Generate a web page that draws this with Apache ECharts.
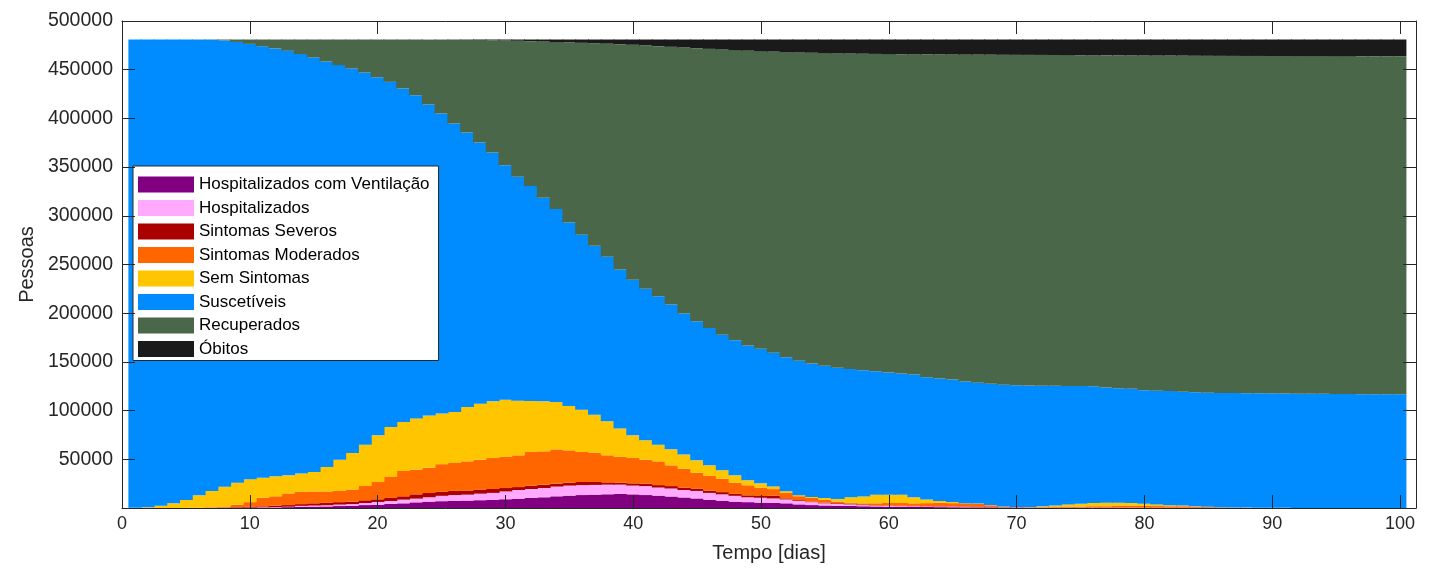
<!DOCTYPE html>
<html>
<head>
<meta charset="utf-8">
<script src="https://cdn.jsdelivr.net/npm/echarts@6/dist/echarts.min.js"></script>
<style>
html, body { margin: 0; padding: 0; background: #fff; }
#chart { width: 1433px; height: 568px; }
</style>
</head>
<body>
<div id="chart"></div>
<script>
// dias da simulacao
var days = [];
for (var d = 1; d <= 100; d++) days.push(d);

// pessoas por compartimento (dia 1..100)
var ventilados = [
  0,0,0,0,0,0,0,0,100,200,
  300,600,900,1300,1400,1600,2000,2300,3000,3300,
  4100,4800,5800,6500,7000,7300,7600,8000,8500,9000,
  9600,10300,11000,12000,12700,13300,13700,14100,14400,14000,
  13300,12700,11800,10800,9800,8500,7500,6500,6000,5500,
  5200,4800,3700,3000,2600,2400,2200,1800,1600,1400,
  1200,1100,1000,900,800,700,600,550,450,400,
  350,330,300,300,290,280,270,260,240,220,
  200,180,160,140,120,100,90,80,70,60,
  50,45,40,35,30,25,20,15,10,5
];
var hospitalizados = [
  0,0,0,0,0,0,50,100,100,200,
  400,400,400,900,1100,1200,1500,1700,2100,2900,
  3100,3800,3800,4500,5500,6000,6100,6700,7000,8000,
  8900,9200,9500,10000,10300,10200,10000,9900,9600,9000,
  9200,8300,8200,7700,7700,7000,6500,6000,5000,5000,
  4600,4000,3600,3000,2200,2000,1500,1100,900,800,
  700,700,500,500,400,400,300,250,150,150,
  150,120,100,100,110,120,110,100,100,80,
  60,50,40,40,40,40,30,20,20,20,
  20,15,10,10,10,5,5,5,2,3
];
var severos = [
  0,0,0,0,50,100,150,300,600,1100,
  1000,1500,1700,1800,2300,2500,2500,2500,2800,2700,
  3100,3400,4400,4400,4100,4200,4300,4300,4000,3500,
  3000,3500,3500,3000,3000,3200,3000,2300,2000,2300,
  2500,2500,2500,2500,2500,2300,2300,2000,2000,1800,
  3000,1100,800,600,700,700,700,800,400,400,
  300,400,300,400,300,400,200,300,100,150,
  100,100,100,100,100,100,120,140,110,100,
  90,70,100,70,90,60,80,50,60,20,
  30,20,20,15,10,10,5,0,3,2
];
var moderados = [
  0,0,0,0,50,200,500,1100,2600,4500,
  8900,9500,12000,12500,12200,11700,11500,12500,14700,17800,
  21500,26000,25400,26000,28400,28700,29900,30600,31800,31900,
  32600,34500,34200,35200,33200,30800,30100,27800,26400,26000,
  24600,24400,21300,19400,16300,15100,13800,11500,10300,8700,
  6600,5500,4000,3700,2900,1500,1100,1100,1900,2500,
  2900,2600,3200,3400,3500,3200,3200,1700,700,300,
  300,250,400,500,1000,1300,1300,1700,1750,1800,
  1650,1500,1500,1250,850,500,200,150,50,50,
  0,0,0,0,0,0,0,0,0,0
];
var semSintomas = [
  200,700,2400,4800,8100,12700,16800,20400,22600,23600,
  20500,20500,18500,18800,20000,25100,32100,37500,42400,47900,
  51400,50300,52600,53600,52000,52400,55800,57500,58200,58800,
  56100,52400,51300,48700,45500,43500,39000,34900,29100,23300,
  19900,17100,16400,14400,12600,10900,8600,7500,5100,4300,
  2600,1800,1100,1100,1900,2600,5500,6900,8800,8500,
  8500,6200,3800,2100,1200,300,200,200,200,100,
  200,1000,1700,2700,2900,3300,3700,3300,2900,2200,
  1700,1100,800,300,200,100,100,100,100,50,
  50,40,30,20,10,10,10,10,5,0
];
var suscetiveis = [
  480800,480300,478600,476200,472800,468000,463200,458100,452500,446900,
  442900,439300,435900,430700,425500,416300,405100,394700,382100,367700,
  354300,342400,331800,319300,308000,296200,281800,268200,255500,240800,
  229800,220800,209000,198100,188500,179600,173500,169000,163400,159700,
  155600,152500,148800,144900,142900,140900,139200,138800,138500,138200,
  137400,137700,138000,137000,135700,134800,131600,129800,126900,125600,
  124500,126100,125500,125700,125800,124900,124000,124500,124900,125000,
  124700,123800,122800,121600,120800,119900,118300,117500,117300,116600,
  116600,117100,116700,117100,117000,117300,117500,117500,117500,117500,
  117350,117280,117200,117120,117040,116950,116860,116870,116780,116790
];
var recuperados = [
  0,0,0,0,0,0,300,1000,2500,4500,
  7000,9200,11600,15000,18500,22600,26300,29800,33900,38650,
  43420,50200,57070,66540,75800,85950,95200,105200,115300,128000,
  139700,148600,160400,171400,184800,197000,207900,218700,231300,241300,
  249800,256700,264500,273100,280300,286700,292800,297800,302700,305600,
  309200,313300,316600,319000,321100,322800,324000,324900,325700,326800,
  327800,328700,331400,332650,333600,335600,336950,337900,338800,339150,
  339400,339550,339700,339700,339700,339800,340900,341650,342200,343550,
  344200,344450,345100,345400,345950,346100,346150,346200,346300,346350,
  346550,346600,346700,346800,346850,346950,347000,347000,347100,347100
];
var obitos = [
  0,0,0,0,0,0,0,0,0,0,
  0,0,0,0,0,0,0,0,0,50,
  80,100,130,160,200,250,300,500,700,1000,
  1300,1700,2100,2600,3000,3400,3800,4300,4800,5400,
  6100,6800,7500,8200,8900,9600,10300,10900,11400,11900,
  12400,12800,13200,13600,13900,14200,14400,14600,14800,15000,
  15100,15200,15300,15350,15400,15500,15550,15600,15700,15750,
  15800,15850,15900,16000,16100,16200,16300,16350,16400,16450,
  16500,16550,16600,16700,16750,16800,16850,16900,16900,16950,
  16950,17000,17000,17000,17050,17050,17100,17100,17100,17100
];

var seriesNames = ['Hospitalizados com Ventilação', 'Hospitalizados', 'Sintomas Severos',
  'Sintomas Moderados', 'Sem Sintomas', 'Suscetíveis', 'Recuperados', 'Óbitos'];
var seriesColors = ['#800080', '#ffaaff', '#aa0000', '#ff6600', '#ffc600', '#008cff', '#4a674a', '#1a1a1a'];
var seriesValues = [ventilados, hospitalizados, severos, moderados, semSintomas, suscetiveis, recuperados, obitos];

var FONT = 'Liberation Sans, Arial, sans-serif';
var AXIS_COLOR = '#262626';
var W = 1433;
var X_MAX = 101.25;
var Y_MAX = 500000;
// moldura dos eixos (px)
var frame = { left: 122, right: 17, top: 21, bottom: 60 };
// as barras ocupam de 0.5 a 100.5 dias dentro da moldura
var pxPerDay = (W - frame.left - frame.right) / X_MAX;
var barGrid = {
  left: frame.left + 0.5 * pxPerDay,
  right: W - (frame.left + (days.length + 0.5) * pxPerDay),
  top: frame.top,
  bottom: frame.bottom
};

var myEcharts = echarts.init(document.getElementById('chart'), null, { renderer: 'canvas' });

// barras empilhadas; um pouco mais largas que a banda para nao deixar frestas
var series = [];
for (var i = 0; i < seriesNames.length; i++) {
  var vals = seriesValues[i];
  var data = [];
  for (var j = 0; j < vals.length; j++) data.push(vals[j] > 0 ? vals[j] : null);
  series.push({
    name: seriesNames[i],
    type: 'bar',
    stack: 'total',
    barWidth: pxPerDay + 1,
    xAxisIndex: 2,
    yAxisIndex: 2,
    itemStyle: { color: seriesColors[i], borderWidth: 0 },
    emphasis: { disabled: true },
    data: data
  });
}

// eixo com moldura estilo matlab (ticks para dentro)
function frameAxis(extra) {
  var ax = {
    gridIndex: 1,
    z: 10,
    axisLine: { show: true, onZero: false, lineStyle: { color: AXIS_COLOR, width: 1 } },
    axisTick: { show: true, inside: true, length: 13, lineStyle: { color: AXIS_COLOR, width: 1 } },
    splitLine: { show: false },
    axisLabel: { show: false }
  };
  for (var k in extra) ax[k] = extra[k];
  return ax;
}

var option = {
  backgroundColor: '#fff',
  animation: false,
  grid: [
    { left: barGrid.left, right: barGrid.right, top: barGrid.top, bottom: barGrid.bottom, outerBoundsMode: 'none', containLabel: false },
    { left: frame.left, right: frame.right, top: frame.top, bottom: frame.bottom, outerBoundsMode: 'none', containLabel: false }
  ],
  legend: {
    data: seriesNames,
    orient: 'vertical',
    left: 133,
    top: 166,
    icon: 'rect',
    itemWidth: 56,
    itemHeight: 16,
    itemGap: 6.5,
    padding: [10, 9, 3, 5],
    backgroundColor: '#fff',
    borderColor: AXIS_COLOR,
    borderWidth: 1,
    borderRadius: 0,
    selectedMode: false,
    textStyle: { fontFamily: FONT, fontSize: 17, color: '#000' }
  },
  xAxis: [
    frameAxis({
      type: 'value', position: 'bottom', min: 0, max: X_MAX, interval: 10,
      name: 'Tempo [dias]', nameLocation: 'middle', nameGap: 35,
      nameTextStyle: { fontFamily: FONT, fontSize: 20, color: AXIS_COLOR },
      axisLabel: { show: true, margin: 7, fontFamily: FONT, fontSize: 18, color: AXIS_COLOR, showMaxLabel: false,
        formatter: function (v) { return String(v); } }
    }),
    frameAxis({ type: 'value', position: 'top', min: 0, max: X_MAX, interval: 10 }),
    { type: 'category', gridIndex: 0, data: days, show: false, boundaryGap: true }
  ],
  yAxis: [
    frameAxis({
      type: 'value', position: 'left', min: 0, max: Y_MAX, interval: 50000,
      name: 'Pessoas', nameLocation: 'middle', nameGap: 80,
      nameTextStyle: { fontFamily: FONT, fontSize: 20, color: AXIS_COLOR },
      axisLabel: { show: true, margin: 9, fontFamily: FONT, fontSize: 19.5, color: AXIS_COLOR, showMinLabel: false,
        formatter: function (v) { return v === 0 ? '' : String(v); } }
    }),
    frameAxis({ type: 'value', position: 'right', min: 0, max: Y_MAX, interval: 50000 }),
    { type: 'value', gridIndex: 0, min: 0, max: Y_MAX, show: false, splitLine: { show: false } }
  ],
  series: series
};

myEcharts.setOption(option);
</script>
</body>
</html>
